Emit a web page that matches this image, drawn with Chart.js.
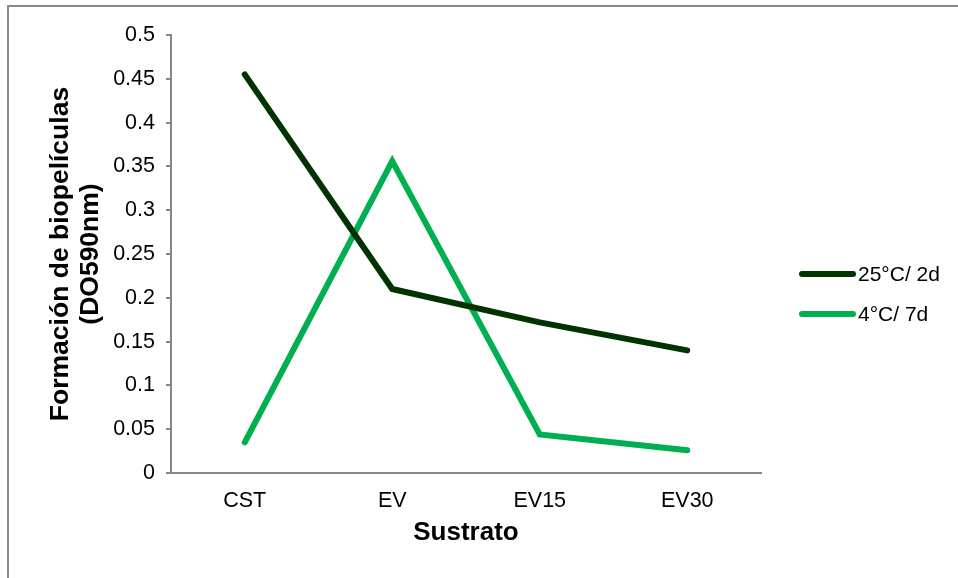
<!DOCTYPE html>
<html>
<head>
<meta charset="utf-8">
<script src="https://cdn.jsdelivr.net/npm/chart.js@4/dist/chart.umd.min.js"></script>
<style>
  html, body { margin: 0; padding: 0; background: #ffffff; }
  #wrap { width: 958px; height: 578px; }
</style>
</head>
<body>
<div id="wrap"><canvas id="c" width="958" height="578"></canvas></div>
<script>
// Biofilm formation (OD 590 nm) per substrate
const categories = ['CST', 'EV', 'EV15', 'EV30'];
const series25C2d = [0.455, 0.21, 0.172, 0.14];
const series4C7d = [0.035, 0.356, 0.044, 0.026];
const seriesLabels = ['25°C/ 2d', '4°C/ 7d'];
const seriesColors = ['#003300', '#00B050'];
const yTicks = [0, 0.05, 0.1, 0.15, 0.2, 0.25, 0.3, 0.35, 0.4, 0.45, 0.5];

const FONT = 'Liberation Sans, Arial, sans-serif';
const AXIS_GRAY = '#868686';

// Outer frame (top and left edges) plus white background
const framePlugin = {
  id: 'frame',
  beforeDraw(chart) {
    const ctx = chart.ctx;
    ctx.save();
    ctx.fillStyle = '#ffffff';
    ctx.fillRect(0, 0, chart.width, chart.height);
    ctx.strokeStyle = '#898989';
    ctx.lineWidth = 2;
    ctx.beginPath();
    ctx.moveTo(8, chart.height);
    ctx.lineTo(8, 6);
    ctx.lineTo(chart.width, 6);
    ctx.stroke();
    ctx.restore();
  }
};

// Legend on the right, line samples with labels
const sideLegend = {
  id: 'sideLegend',
  afterDraw(chart) {
    const ctx = chart.ctx;
    const rows = [274, 314];
    ctx.save();
    chart.data.datasets.forEach((ds, i) => {
      const y = rows[i];
      ctx.strokeStyle = ds.borderColor;
      ctx.lineWidth = 6;
      ctx.lineCap = 'round';
      ctx.beginPath();
      ctx.moveTo(802, y);
      ctx.lineTo(853, y);
      ctx.stroke();
      ctx.fillStyle = '#000000';
      ctx.font = '21px ' + FONT;
      ctx.textAlign = 'left';
      ctx.textBaseline = 'middle';
      ctx.fillText(ds.label, 858, y + 1);
    });
    ctx.restore();
  }
};

new Chart(document.getElementById('c'), {
  type: 'line',
  data: {
    labels: categories,
    datasets: [
      {
        label: seriesLabels[0],
        data: series25C2d,
        borderColor: seriesColors[0],
        backgroundColor: seriesColors[0],
        borderWidth: 6,
        borderCapStyle: 'round',
        borderJoinStyle: 'miter',
        pointRadius: 0,
        pointHoverRadius: 0,
        tension: 0,
        fill: false
      },
      {
        label: seriesLabels[1],
        data: series4C7d,
        borderColor: seriesColors[1],
        backgroundColor: seriesColors[1],
        borderWidth: 6,
        borderCapStyle: 'round',
        borderJoinStyle: 'miter',
        pointRadius: 0,
        pointHoverRadius: 0,
        tension: 0,
        fill: false
      }
    ]
  },
  options: {
    responsive: false,
    animation: false,
    events: [],
    layout: { padding: { left: 0, right: 197, top: 35, bottom: 0 } },
    plugins: {
      legend: { display: false },
      tooltip: { enabled: false },
      title: { display: false }
    },
    scales: {
      x: {
        type: 'category',
        offset: true,
        grid: { display: false, drawTicks: false, offset: true },
        border: { display: true, color: AXIS_GRAY, width: 2 },
        ticks: {
          color: '#000000',
          font: { family: FONT, size: 21.5 },
          padding: 15,
          maxRotation: 0,
          autoSkip: false
        },
        title: {
          display: true,
          text: 'Sustrato',
          color: '#000000',
          font: { family: FONT, size: 26, weight: 'bold' },
          padding: { top: 0, bottom: 30 }
        },
        afterFit(scale) { scale.height = 105; }
      },
      y: {
        type: 'linear',
        min: 0,
        max: 0.5,
        grid: {
          display: true,
          drawOnChartArea: false,
          drawTicks: true,
          tickLength: 5,
          color: AXIS_GRAY,
          lineWidth: 2
        },
        border: { display: true, color: AXIS_GRAY, width: 2 },
        afterBuildTicks(scale) {
          scale.ticks = yTicks.map(v => ({ value: v }));
        },
        ticks: {
          color: '#000000',
          font: { family: FONT, size: 21.5 },
          padding: 11,
          callback: (v) => String(+Number(v).toFixed(2))
        },
        title: {
          display: true,
          text: ['Formación de biopelículas', '(DO590nm)'],
          color: '#000000',
          font: { family: FONT, size: 26.5, weight: 'bold', lineHeight: 1.13 },
          padding: { top: 46, bottom: 0 }
        },
        afterFit(scale) { scale.width = 171; }
      }
    }
  },
  plugins: [framePlugin, sideLegend]
});
</script>
</body>
</html>
